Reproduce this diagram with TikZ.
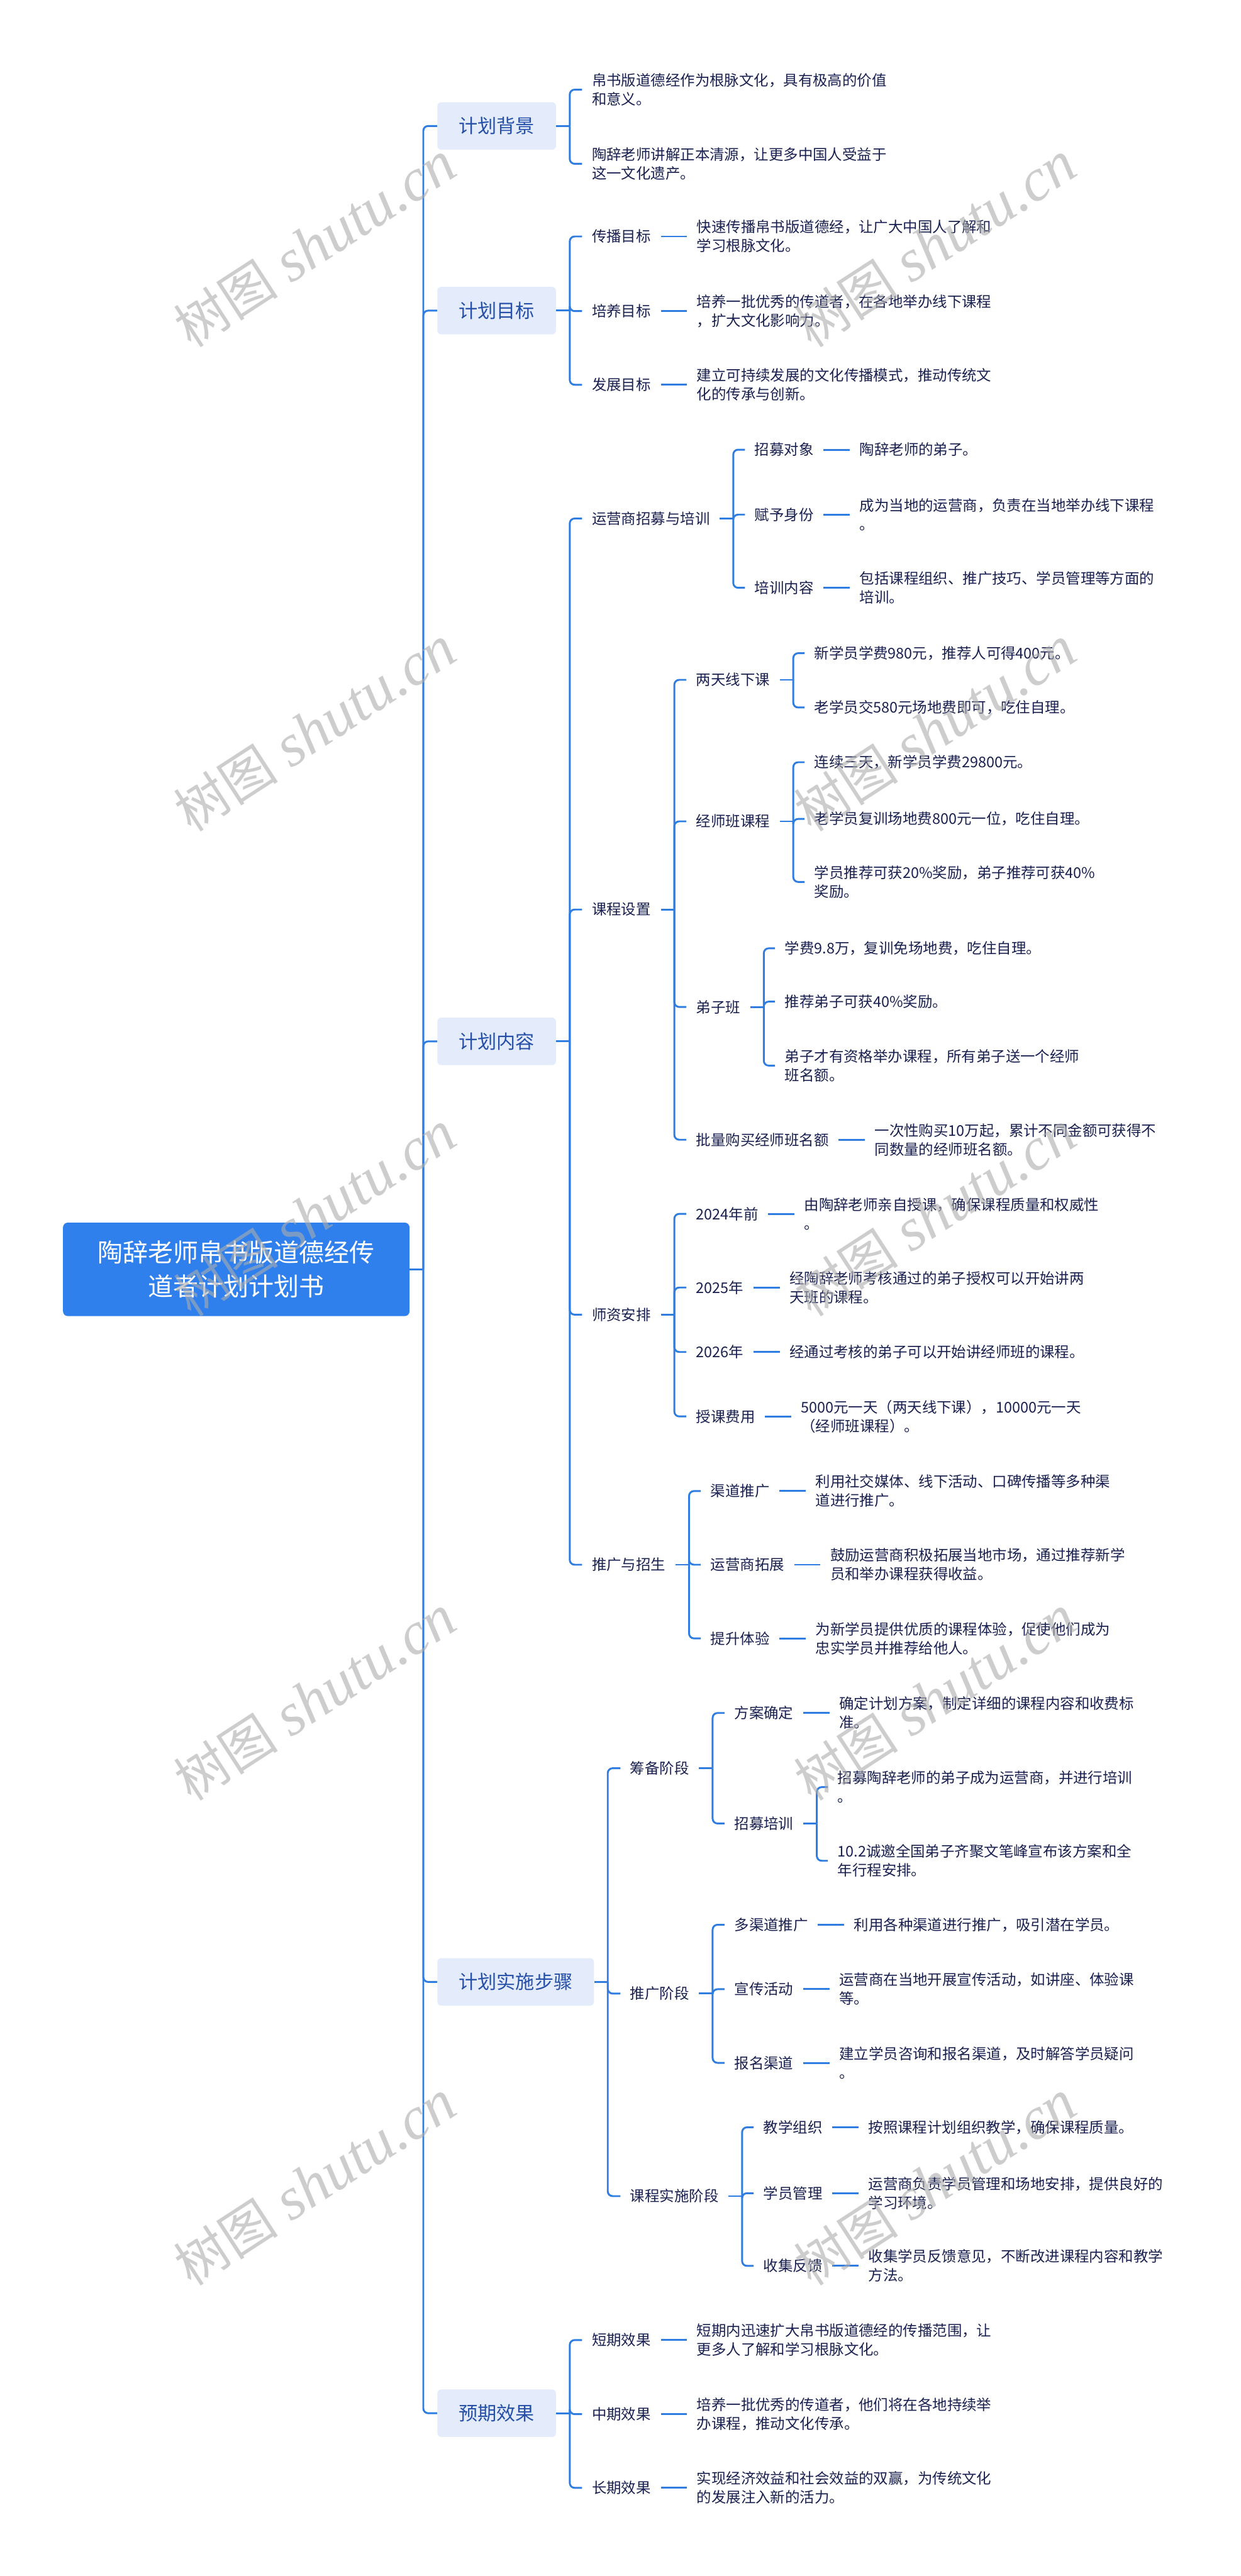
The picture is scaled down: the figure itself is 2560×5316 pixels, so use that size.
\documentclass[tikz,border=0pt]{standalone}
\usepackage{fontspec}
\newfontfamily\cjk{Noto Sans CJK SC}
\newfontfamily\wmserif{Liberation Serif}
\definecolor{linkc}{HTML}{2F7DE1}
\definecolor{txtc}{HTML}{1A2150}
\definecolor{lonefill}{HTML}{E4ECFC}
\definecolor{lonetext}{HTML}{2650A8}
\definecolor{rootc}{HTML}{2F80ED}
\newcommand\branch[2]{%
  \draw[link] (#1.east) -- ++(28,0) coordinate (sp#1);
  \foreach \chd in {#2}{\draw[link,rounded corners=5pt] (sp#1) |- (\chd.west);}%
}
\newcommand\onechild[2]{\draw[link] (#1.east) -- (#2.west);}
\begin{document}
\begin{tikzpicture}[x=0.5pt,y=-0.5pt,
  link/.style={draw=linkc,line width=1.9pt},
  txt/.style={anchor=west,inner xsep=10pt,inner ysep=2pt,align=left,text=txtc,font=\cjk\fontsize{15.2pt}{19.5pt}\selectfont},
  lone/.style={anchor=west,fill=lonefill,rounded corners=4pt,text=lonetext,inner xsep=22pt,minimum height=49pt,font=\cjk\fontsize{19.6pt}{24pt}\selectfont},
  rootbox/.style={fill=rootc,text=white,rounded corners=5pt,minimum width=357.5pt,minimum height=96.5pt,align=center,font=\cjk\fontsize{26pt}{35pt}\selectfont},
  wm/.style={rotate=33,text=black!32,text opacity=0.6,inner sep=0pt}
]
\useasboundingbox (0,0) rectangle (2560,5316);
\fill[white] (0,0) rectangle (2560,5316);

% root
\node[rootbox] (root) at (487.5,2619.5) {陶辞老师帛书版道德经传\\道者计划计划书};

% level 1
\node[lone] (bg) at (902,260) {计划背景};
\node[lone] (mb) at (902,641) {计划目标};
\node[lone] (nr) at (902,2149) {计划内容};
\node[lone] (ss) at (902,4090) {计划实施步骤};
\node[lone] (yq) at (902,4980) {预期效果};

% 计划背景
\node[txt] (bg1) at (1201,185) {帛书版道德经作为根脉文化，具有极高的价值\\和意义。};
\node[txt] (bg2) at (1201,338) {陶辞老师讲解正本清源，让更多中国人受益于\\这一文化遗产。};

% 计划目标
\node[txt] (mb1) at (1201,488) {传播目标};
\node[txt] (mb1a) at ([xshift=27pt]mb1.east) {快速传播帛书版道德经，让广大中国人了解和\\学习根脉文化。};
\node[txt] (mb2) at (1201,642) {培养目标};
\node[txt] (mb2a) at ([xshift=27pt]mb2.east) {培养一批优秀的传道者，在各地举办线下课程\\，扩大文化影响力。};
\node[txt] (mb3) at (1201,794) {发展目标};
\node[txt] (mb3a) at ([xshift=27pt]mb3.east) {建立可持续发展的文化传播模式，推动传统文\\化的传承与创新。};

% 计划内容
\node[txt] (nr1) at (1201,1070) {运营商招募与培训};
\node[txt] (nr1a) at (1537,928) {招募对象};
\node[txt] (nr1al) at ([xshift=27pt]nr1a.east) {陶辞老师的弟子。};
\node[txt] (nr1b) at (1537,1062) {赋予身份};
\node[txt] (nr1bl) at ([xshift=27pt]nr1b.east) {成为当地的运营商，负责在当地举办线下课程\\。};
\node[txt] (nr1c) at (1537,1213) {培训内容};
\node[txt] (nr1cl) at ([xshift=27pt]nr1c.east) {包括课程组织、推广技巧、学员管理等方面的\\培训。};

\node[txt] (nr2) at (1201,1877) {课程设置};
\node[txt] (kc1) at (1416,1403) {两天线下课};
\node[txt] (kc1a) at (1660,1348) {新学员学费980元，推荐人可得400元。};
\node[txt] (kc1b) at (1660,1460) {老学员交580元场地费即可，吃住自理。};
\node[txt] (kc2) at (1416,1695) {经师班课程};
\node[txt] (kc2a) at (1660,1573) {连续三天，新学员学费29800元。};
\node[txt] (kc2b) at (1660,1690) {老学员复训场地费800元一位，吃住自理。};
\node[txt] (kc2c) at (1660,1820) {学员推荐可获20\%奖励，弟子推荐可获40\%\\奖励。};
\node[txt] (kc3) at (1416,2078) {弟子班};
\node[txt] (kc3a) at (1599,1957) {学费9.8万，复训免场地费，吃住自理。};
\node[txt] (kc3b) at (1599,2067) {推荐弟子可获40\%奖励。};
\node[txt] (kc3c) at (1599,2199) {弟子才有资格举办课程，所有弟子送一个经师\\班名额。};
\node[txt] (kc4) at (1416,2352) {批量购买经师班名额};
\node[txt] (kc4a) at ([xshift=27pt]kc4.east) {一次性购买10万起，累计不同金额可获得不\\同数量的经师班名额。};

\node[txt] (nr3) at (1201,2713) {师资安排};
\node[txt] (sz1) at (1416,2505) {2024年前};
\node[txt] (sz1a) at ([xshift=27pt]sz1.east) {由陶辞老师亲自授课，确保课程质量和权威性\\。};
\node[txt] (sz2) at (1416,2657) {2025年};
\node[txt] (sz2a) at ([xshift=27pt]sz2.east) {经陶辞老师考核通过的弟子授权可以开始讲两\\天班的课程。};
\node[txt] (sz3) at (1416,2790) {2026年};
\node[txt] (sz3a) at ([xshift=27pt]sz3.east) {经通过考核的弟子可以开始讲经师班的课程。};
\node[txt] (sz4) at (1416,2923) {授课费用};
\node[txt] (sz4a) at ([xshift=27pt]sz4.east) {5000元一天（两天线下课），10000元一天\\（经师班课程）。};

\node[txt] (nr4) at (1201,3229) {推广与招生};
\node[txt] (tg1) at (1446,3077) {渠道推广};
\node[txt] (tg1a) at ([xshift=27pt]tg1.east) {利用社交媒体、线下活动、口碑传播等多种渠\\道进行推广。};
\node[txt] (tg2) at (1446,3229) {运营商拓展};
\node[txt] (tg2a) at ([xshift=27pt]tg2.east) {鼓励运营商积极拓展当地市场，通过推荐新学\\员和举办课程获得收益。};
\node[txt] (tg3) at (1446,3381) {提升体验};
\node[txt] (tg3a) at ([xshift=27pt]tg3.east) {为新学员提供优质的课程体验，促使他们成为\\忠实学员并推荐给他人。};

% 计划实施步骤
\node[txt] (ss1) at (1280,3649) {筹备阶段};
\node[txt] (cb1) at (1495,3535) {方案确定};
\node[txt] (cb1a) at ([xshift=27pt]cb1.east) {确定计划方案，制定详细的课程内容和收费标\\准。};
\node[txt] (cb2) at (1495,3763) {招募培训};
\node[txt] (cb2a) at (1708,3688) {招募陶辞老师的弟子成为运营商，并进行培训\\。};
\node[txt] (cb2b) at (1708,3840) {10.2诚邀全国弟子齐聚文笔峰宣布该方案和全\\年行程安排。};

\node[txt] (ss2) at (1280,4114) {推广阶段};
\node[txt] (tp1) at (1495,3972) {多渠道推广};
\node[txt] (tp1a) at ([xshift=27pt]tp1.east) {利用各种渠道进行推广，吸引潜在学员。};
\node[txt] (tp2) at (1495,4105) {宣传活动};
\node[txt] (tp2a) at ([xshift=27pt]tp2.east) {运营商在当地开展宣传活动，如讲座、体验课\\等。};
\node[txt] (tp3) at (1495,4257) {报名渠道};
\node[txt] (tp3a) at ([xshift=27pt]tp3.east) {建立学员咨询和报名渠道，及时解答学员疑问\\。};

\node[txt] (ss3) at (1280,4532) {课程实施阶段};
\node[txt] (ks1) at (1555,4390) {教学组织};
\node[txt] (ks1a) at ([xshift=27pt]ks1.east) {按照课程计划组织教学，确保课程质量。};
\node[txt] (ks2) at (1555,4526) {学员管理};
\node[txt] (ks2a) at ([xshift=27pt]ks2.east) {运营商负责学员管理和场地安排，提供良好的\\学习环境。};
\node[txt] (ks3) at (1555,4676) {收集反馈};
\node[txt] (ks3a) at ([xshift=27pt]ks3.east) {收集学员反馈意见，不断改进课程内容和教学\\方法。};

% 预期效果
\node[txt] (yq1) at (1201,4829) {短期效果};
\node[txt] (yq1a) at ([xshift=27pt]yq1.east) {短期内迅速扩大帛书版道德经的传播范围，让\\更多人了解和学习根脉文化。};
\node[txt] (yq2) at (1201,4982) {中期效果};
\node[txt] (yq2a) at ([xshift=27pt]yq2.east) {培养一批优秀的传道者，他们将在各地持续举\\办课程，推动文化传承。};
\node[txt] (yq3) at (1201,5134) {长期效果};
\node[txt] (yq3a) at ([xshift=27pt]yq3.east) {实现经济效益和社会效益的双赢，为传统文化\\的发展注入新的活力。};

% connectors
\branch{root}{bg,mb,nr,ss,yq}
\branch{bg}{bg1,bg2}
\branch{mb}{mb1,mb2,mb3}
\onechild{mb1}{mb1a}\onechild{mb2}{mb2a}\onechild{mb3}{mb3a}
\branch{nr}{nr1,nr2,nr3,nr4}
\branch{nr1}{nr1a,nr1b,nr1c}
\onechild{nr1a}{nr1al}\onechild{nr1b}{nr1bl}\onechild{nr1c}{nr1cl}
\branch{nr2}{kc1,kc2,kc3,kc4}
\branch{kc1}{kc1a,kc1b}
\branch{kc2}{kc2a,kc2b,kc2c}
\branch{kc3}{kc3a,kc3b,kc3c}
\onechild{kc4}{kc4a}
\branch{nr3}{sz1,sz2,sz3,sz4}
\onechild{sz1}{sz1a}\onechild{sz2}{sz2a}\onechild{sz3}{sz3a}\onechild{sz4}{sz4a}
\branch{nr4}{tg1,tg2,tg3}
\onechild{tg1}{tg1a}\onechild{tg2}{tg2a}\onechild{tg3}{tg3a}
\branch{ss}{ss1,ss2,ss3}
\branch{ss1}{cb1,cb2}
\onechild{cb1}{cb1a}
\branch{cb2}{cb2a,cb2b}
\branch{ss2}{tp1,tp2,tp3}
\onechild{tp1}{tp1a}\onechild{tp2}{tp2a}\onechild{tp3}{tp3a}
\branch{ss3}{ks1,ks2,ks3}
\onechild{ks1}{ks1a}\onechild{ks2}{ks2a}\onechild{ks3}{ks3a}
\branch{yq}{yq1,yq2,yq3}
\onechild{yq1}{yq1a}\onechild{yq2}{yq2a}\onechild{yq3}{yq3a}

% watermarks
\foreach \wx/\wy [count=\wi] in {650/505,1930/505,650/1505,1930/1505,650/2505,1930/2505,650/3505,1930/3505,650/4505,1930/4505}{
  \node[wm] (wm\wi) at (\wx,\wy) {{\cjk\fontsize{54pt}{54pt}\selectfont 树图}\hspace{14pt}{\wmserif\itshape\fontsize{62pt}{62pt}\selectfont shutu.cn}};
}
\end{tikzpicture}
\end{document}
